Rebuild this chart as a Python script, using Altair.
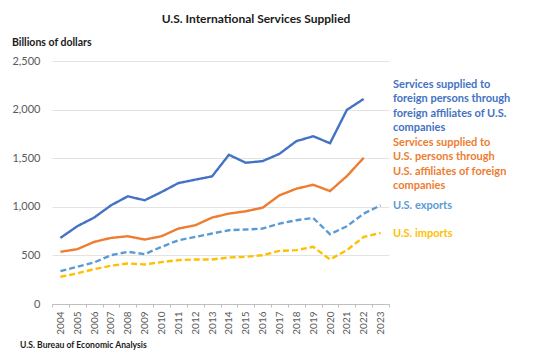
import altair as alt
import pandas as pd

years = [str(y) for y in range(2004, 2024)]
affiliates_abroad = [680, 800, 889, 1015, 1108, 1067, 1152, 1244, 1279, 1313,
                     1535, 1453, 1470, 1545, 1675, 1726, 1654, 1997, 2110, None]
affiliates_us = [537, 564, 639, 680, 697, 663, 697, 776, 810, 889,
                 930, 954, 991, 1118, 1186, 1227, 1162, 1316, 1504, None]
exports = [338, 383, 427, 502, 537, 513, 588, 656, 690, 725,
           759, 766, 776, 827, 862, 885, 718, 800, 930, 1015]
imports = [280, 315, 359, 393, 417, 407, 431, 451, 458, 458,
           479, 485, 502, 547, 554, 588, 458, 554, 690, 731]
y_ticks = [0, 500, 1000, 1500, 2000, 2500]

series_names = ["abroad", "us", "exports", "imports"]
series_values = [affiliates_abroad, affiliates_us, exports, imports]
colors = ["#4472C4", "#ED7D31", "#5B9BD5", "#FFC000"]
dashes = [[1, 0], [1, 0], [6, 3], [6, 3]]

rows = []
for name, vals in zip(series_names, series_values):
    for y, v in zip(years, vals):
        if v is not None:
            rows.append({"year": y, "series": name, "value": v})
df = pd.DataFrame(rows)

FONT = "Lato"

y_axis = alt.Axis(values=y_ticks, format=",.0f", labelColor="#595959", labelFontSize=11,
                  labelFont=FONT, labelPadding=12, domain=False, ticks=False,
                  gridColor="#E3E3E3", title=None)
y_scale = alt.Scale(domain=[0, 2500])

lines = alt.Chart(df).mark_line(strokeWidth=2.4).encode(
    x=alt.X("year:O", scale=alt.Scale(type="band", paddingInner=0, paddingOuter=0),
            axis=alt.Axis(title=None, labelAngle=270, labelColor="#595959", labelFontSize=10,
                          labelFont=FONT, domainColor="#BFBFBF", tickColor="#BFBFBF",
                          tickSize=3, tickBand="extent", labelPadding=4, grid=False)),
    y=alt.Y("value:Q", scale=y_scale, axis=y_axis),
    color=alt.Color("series:N", scale=alt.Scale(domain=series_names, range=colors), legend=None),
    strokeDash=alt.StrokeDash("series:N", scale=alt.Scale(domain=series_names, range=dashes), legend=None),
)

label_abroad = ["Services supplied to", "foreign persons through",
                "foreign affiliates of U.S.", "companies"]
label_us = ["Services supplied to", "U.S. persons through",
            "U.S. affiliates of foreign", "companies"]

ann = pd.DataFrame([
    {"t": label_abroad, "c": colors[0], "y": 18},
    {"t": label_us, "c": colors[1], "y": 76},
])
blocks = alt.Chart(ann).mark_text(align="left", baseline="top", font=FONT, fontSize=11,
                                  fontWeight="bold", lineHeight=14.3).encode(
    x=alt.value(341), y=alt.Y("y:Q", scale=None, axis=None), text="t",
    color=alt.Color("c:N", scale=None))

end_labels = pd.DataFrame([
    {"t": "U.S. exports", "c": colors[2], "value": exports[-1]},
    {"t": "U.S. imports", "c": colors[3], "value": imports[-1]},
])
ends = alt.Chart(end_labels).mark_text(align="left", baseline="middle", font=FONT, fontSize=11,
                                       fontWeight="bold", dy=1).encode(
    x=alt.value(341), y=alt.Y("value:Q", scale=y_scale, axis=y_axis), text="t",
    color=alt.Color("c:N", scale=None))

texts = pd.DataFrame([
    {"t": "U.S. International Services Supplied", "x": 204, "y": -42, "s": 12},
    {"t": "Billions of dollars", "x": -40, "y": -18, "s": 10.5},
    {"t": "U.S. Bureau of Economic Analysis", "x": -32, "y": 284, "s": 8.6},
])

title_t = alt.Chart(texts.iloc[[0]]).mark_text(baseline="middle", align="center", font=FONT,
                                               fontWeight="bold", fontSize=12, color="#1a1a1a").encode(
    x=alt.X("x:Q", scale=None, axis=None), y=alt.Y("y:Q", scale=None, axis=None), text="t")
other_t = alt.Chart(texts.iloc[1:]).mark_text(baseline="middle", align="left", font=FONT,
                                              fontWeight="bold", color="#1a1a1a").encode(
    x=alt.X("x:Q", scale=None, axis=None), y=alt.Y("y:Q", scale=None, axis=None), text="t",
    size=alt.Size("s:Q", scale=None, legend=None))

chart = alt.layer(lines, blocks, ends, title_t, other_t).resolve_scale(
    color="independent", strokeDash="independent"
).properties(
    width=337, height=243,
    autosize=alt.AutoSizeParams(type="none"),
    padding={"left": 44, "top": 53, "right": 125, "bottom": 52},
    background="white",
).configure_view(stroke=None)

chart.save("out.html", embed_options={"renderer": "svg", "actions": False})
